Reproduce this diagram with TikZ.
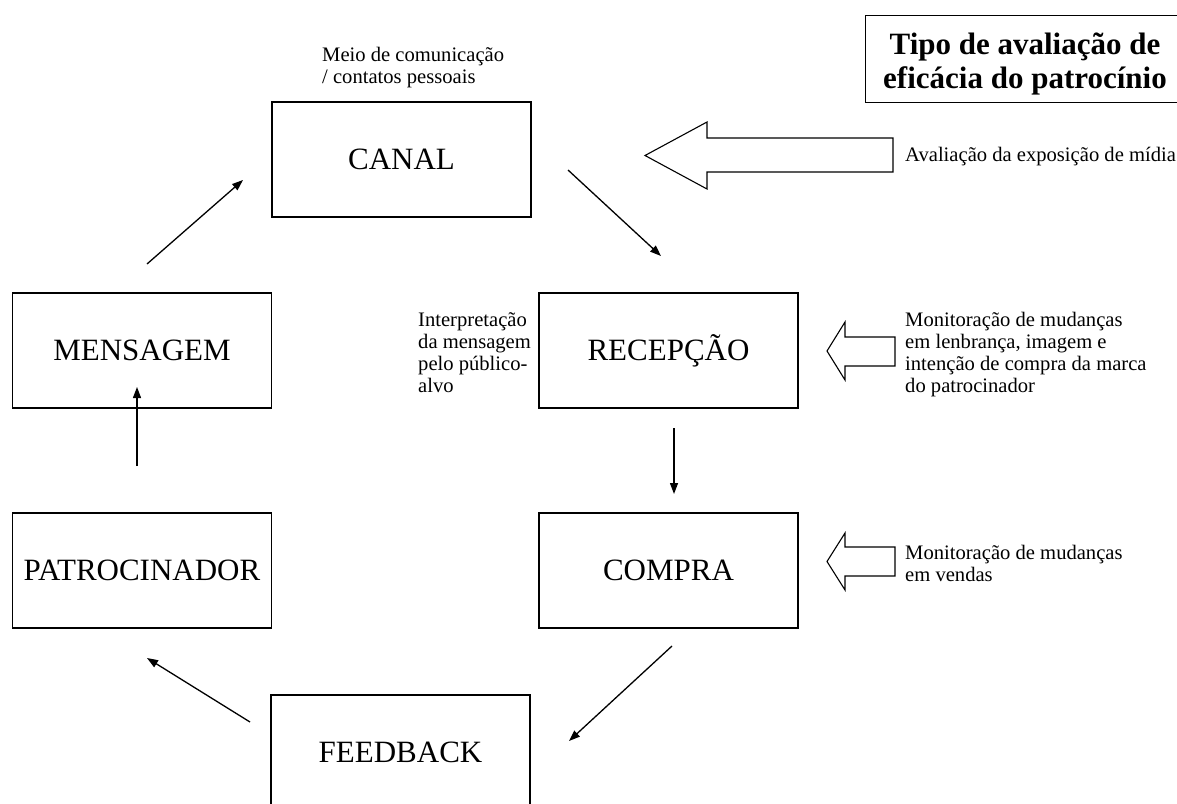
\documentclass[tikz,border=0pt]{standalone}
\usepackage{fontspec}
\setmainfont{Liberation Serif}
\usetikzlibrary{arrows.meta}
\begin{document}
\begin{tikzpicture}[x=1pt,y=-1pt,
  box/.style={draw, line width=1.2pt, minimum width=259pt, minimum height=115pt, inner sep=0pt, font=\fontsize{31}{35}\selectfont},
  lbl/.style={font=\fontsize{20.6}{22}\selectfont, align=left, inner sep=0pt},
  conn/.style={line width=1.3pt, -{Triangle[length=11pt,width=8pt]}},
  hollow/.style={draw, line width=1.1pt, line join=miter, fill=white}]
\useasboundingbox (0,0) rectangle (1177,803);
\clip (0,0) rectangle (1177,803);
\fill[white] (0,0) rectangle (1177,803);

% main boxes
\node[box] (canal) at (401.5,159.5) {CANAL};
\node[box] (mensagem) at (142,350.5) {MENSAGEM};
\node[box] (patrocinador) at (142,570.5) {PATROCINADOR};
\node[box] (recepcao) at (668.5,350.5) {RECEPÇÃO};
\node[box] (compra) at (668.5,570.5) {COMPRA};
\node[box] (feedback) at (400.5,752.5) {FEEDBACK};

% title box
\node[draw, line width=1.2pt, anchor=north west, minimum width=322pt, minimum height=87pt,
      inner sep=0pt] (titulo) at (865,15) {};
\node[anchor=base, inner sep=0pt, align=center, font=\fontsize{31}{34}\bfseries\selectfont]
      (titulotxt) at (1025,88) {Tipo de avaliação de\\eficácia do patrocínio};

% connector end points
\coordinate (m1) at (147,264);  \coordinate (c1) at (243,180);
\coordinate (c2) at (568,170);  \coordinate (r1) at (661,256);
\coordinate (r2) at (674,428);  \coordinate (co1) at (674,494);
\coordinate (co2) at (672,646); \coordinate (f1) at (569,741);
\coordinate (f2) at (250,722);  \coordinate (pa1) at (147,658);
\coordinate (pa2) at (137,466); \coordinate (m2) at (137,387);

\draw[conn] (m1) -- (c1);
\draw[conn] (c2) -- (r1);
\draw[conn] (r2) -- (co1);
\draw[conn] (co2) -- (f1);
\draw[conn] (f2) -- (pa1);
\draw[conn] (pa2) -- (m2);

% hollow block arrows
\path[hollow] (893,138) -- (707,138) -- (707,122) -- (645,155.5) -- (707,189) -- (707,172) -- (893,172) -- cycle;
\path[hollow] (895,337) -- (845,337) -- (845,322) -- (827,351) -- (845,380) -- (845,366) -- (895,366) -- cycle;
\path[hollow] (895,547) -- (845,547) -- (845,533) -- (827,561.5) -- (845,590) -- (845,576) -- (895,576) -- cycle;

% labels (base anchor = baseline of the last line)
\node[lbl, anchor=base west] (meio) at (322,83) {Meio de comunicação\\/ contatos pessoais};
\node[lbl, anchor=base west] (aval) at (905,161) {Avaliação da exposição de mídia};
\node[lbl, anchor=base west] (interp) at (418,392) {Interpretação\\da mensagem\\pelo público-\\alvo};
\node[lbl, anchor=base west] (monrec) at (905,392) {Monitoração de mudanças\\em lenbrança, imagem e\\intenção de compra da marca\\do patrocinador};
\node[lbl, anchor=base west] (moncom) at (905,581) {Monitoração de mudanças\\em vendas};
\end{tikzpicture}
\end{document}
